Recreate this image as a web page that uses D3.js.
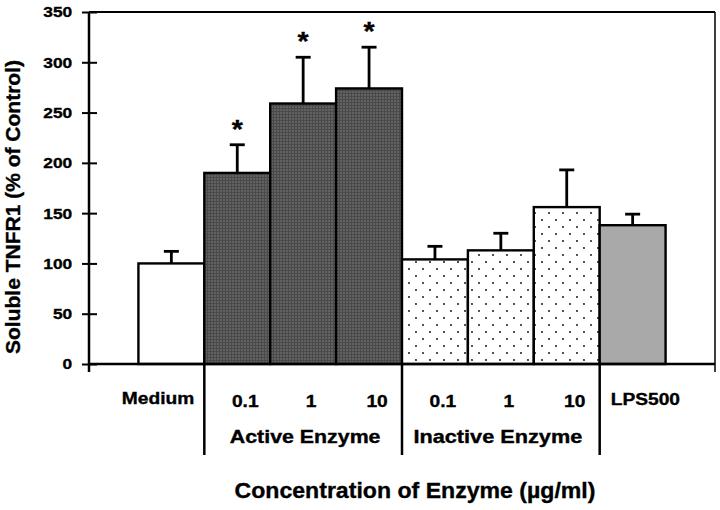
<!DOCTYPE html>
<html>
<head>
<meta charset="utf-8">
<script src="https://cdn.jsdelivr.net/npm/d3@7"></script>
<style>
  body { margin: 0; background: #fff; }
  svg text { font-family: "Liberation Sans", Arial, sans-serif; font-weight: bold; fill: #000; stroke: #000; stroke-width: 0.35px; }
</style>
</head>
<body>
<svg id="chart" width="720" height="510"></svg>
<script>
// values
const categories = ["Medium", "0.1", "1", "10", "0.1", "1", "10", "LPS500"];
const groups = ["medium", "active", "active", "active", "inactive", "inactive", "inactive", "lps"];
const means = [100, 190, 259, 274, 104, 113, 156, 138];
const errors = [12, 28, 46, 41, 13, 17, 37, 11];
const significant = [false, true, true, true, false, false, false, false];
const groupLabels = ["Active Enzyme", "Inactive Enzyme"];
const yTicks = [0, 50, 100, 150, 200, 250, 300, 350];

const svg = d3.select("#chart");
const plotLeft = 89, plotRight = 715, plotTop = 12, plotBottom = 364;

const x = d3.scaleBand()
  .domain(d3.range(categories.length))
  .range([plotLeft, plotRight])
  .paddingInner(0)
  .paddingOuter(0.75);

const y = d3.scaleLinear()
  .domain([0, 350])
  .range([plotBottom, plotTop]);

// fills
const defs = svg.append("defs");
const dark = defs.append("pattern").attr("id", "dark")
  .attr("patternUnits", "userSpaceOnUse").attr("width", 3).attr("height", 3);
dark.append("rect").attr("width", 3).attr("height", 3).attr("fill", "#626262");
dark.append("rect").attr("width", 3).attr("height", 1).attr("fill", "#4a4a4a");
dark.append("rect").attr("width", 1).attr("height", 3).attr("fill", "#4a4a4a");

const dots = defs.append("pattern").attr("id", "dots")
  .attr("patternUnits", "userSpaceOnUse").attr("width", 14).attr("height", 14);
dots.append("rect").attr("width", 14).attr("height", 14).attr("fill", "#fff");
dots.append("circle").attr("cx", 3).attr("cy", 3).attr("r", 0.9).attr("fill", "#000");
dots.append("circle").attr("cx", 10).attr("cy", 10).attr("r", 0.9).attr("fill", "#000");

const fills = { medium: "#fff", active: "url(#dark)", inactive: "url(#dots)", lps: "#a9a9a9" };

function label(g, txt, px, py, size, sx, anchor) {
  return g.append("text")
    .attr("transform", "translate(" + px + "," + py + ") scale(" + sx + ",1)")
    .attr("text-anchor", anchor)
    .style("font-size", size + "px")
    .text(txt);
}

// frame: top and right
svg.append("line").attr("x1", plotLeft).attr("x2", plotRight).attr("y1", plotTop).attr("y2", plotTop)
  .attr("stroke", "#000").attr("stroke-width", 2);
svg.append("line").attr("x1", plotRight).attr("x2", plotRight).attr("y1", plotTop).attr("y2", plotBottom + 8)
  .attr("stroke", "#000").attr("stroke-width", 1.5);

// bars
svg.selectAll("rect.bar")
  .data(means)
  .enter()
  .append("rect")
  .attr("class", "bar")
  .attr("x", (d, i) => x(i))
  .attr("y", d => y(d))
  .attr("width", x.bandwidth())
  .attr("height", d => y(0) - y(d))
  .attr("fill", (d, i) => fills[groups[i]])
  .attr("stroke", "#000")
  .attr("stroke-width", 2.4);

// error bars
const eb = svg.append("g").attr("stroke", "#000").attr("stroke-width", 2.8);
means.forEach(function (m, i) {
  const cx = x(i) + x.bandwidth() / 2;
  eb.append("line").attr("x1", cx).attr("x2", cx).attr("y1", y(m)).attr("y2", y(m + errors[i]));
  eb.append("line").attr("x1", cx - 7.5).attr("x2", cx + 7.5).attr("y1", y(m + errors[i])).attr("y2", y(m + errors[i]));
  if (significant[i]) {
    label(svg, "*", cx, y(m + errors[i]) - 7, 26, 1.1, "middle");
  }
});

// y axis
const yAxis = svg.append("g")
  .attr("transform", "translate(" + plotLeft + ",0)")
  .call(d3.axisLeft(y).tickValues(yTicks).tickSize(7).tickSizeOuter(0));
yAxis.select(".domain").remove();
yAxis.selectAll(".tick line").attr("stroke", "#000").attr("stroke-width", 2).attr("x2", 8).attr("x1", -7);
yAxis.selectAll(".tick text")
  .attr("x", -15)
  .attr("transform", "scale(1.12,1)")
  .style("font-size", "15.5px");
svg.append("line").attr("x1", plotLeft).attr("x2", plotLeft).attr("y1", plotTop).attr("y2", plotBottom + 8)
  .attr("stroke", "#000").attr("stroke-width", 2.5);

// x axis baseline and group dividers
svg.append("line").attr("x1", plotLeft).attr("x2", plotRight).attr("y1", plotBottom).attr("y2", plotBottom)
  .attr("stroke", "#000").attr("stroke-width", 2.5);
[1, 4, 7].forEach(function (i) {
  svg.append("line").attr("x1", x(i)).attr("x2", x(i)).attr("y1", plotBottom).attr("y2", 455)
    .attr("stroke", "#000").attr("stroke-width", 2.5);
});

// category labels
categories.forEach(function (c, i) {
  const cx = x(i) + x.bandwidth() / 2;
  if (i === 0) label(svg, c, x(1) - 10, 404, 17, 1.13, "end");
  else if (i === categories.length - 1) label(svg, c, x(i) + 11, 405, 17, 1.13, "start");
  else label(svg, c, cx + 8, 407, 17, 1.13, "middle");
});

// group labels
label(svg, groupLabels[0], (x(1) + x(4)) / 2 + 2, 443, 17.5, 1.22, "middle");
label(svg, groupLabels[1], (x(4) + x(7)) / 2 - 3, 443, 17.5, 1.24, "middle");

// axis titles
label(svg, "Concentration of Enzyme (\u00b5g/ml)", 415, 498, 22, 1.05, "middle");
svg.append("text")
  .attr("transform", "translate(20,207) rotate(-90)")
  .attr("text-anchor", "middle")
  .style("font-size", "21px")
  .text("Soluble TNFR1 (% of Control)");
</script>
</body>
</html>
